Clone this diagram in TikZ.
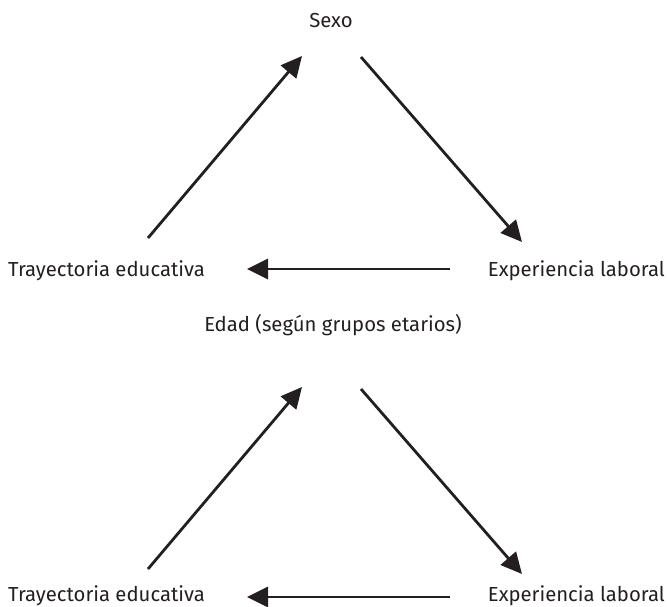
\documentclass[tikz,border=0pt]{standalone}
\usepackage{fontspec}
\setmainfont{Fira Sans}
\usetikzlibrary{arrows.meta}
\definecolor{ink}{HTML}{231F20}
\begin{document}
\begin{tikzpicture}[x=1pt,y=-1pt,
  lbl/.style={text=ink,font=\fontsize{20.3}{22}\selectfont,inner sep=0pt},
  arr/.style={draw=ink,line width=2.8pt,-{Triangle[length=21pt,width=20pt]}}]
\useasboundingbox (0,0) rectangle (667,606);
% top triangle
\node[lbl,anchor=base] (s1) at (331,27) {Sexo};
\node[lbl,anchor=base west] (t1) at (8,276) {Trayectoria educativa};
\node[lbl,anchor=base east] (e1) at (665,276) {Experiencia laboral};
\coordinate (a1s) at (148,238); \coordinate (a1e) at (302,56);
\coordinate (b1s) at (361,57); \coordinate (b1e) at (522,242);
\coordinate (c1s) at (450,269); \coordinate (c1e) at (247,269);
\draw[arr] (a1s) -- (a1e);
\draw[arr] (b1s) -- (b1e);
\draw[arr] (c1s) -- (c1e);
% bottom triangle
\node[lbl,anchor=base] (s2) at (333,331) {Edad (según grupos etarios)};
\node[lbl,anchor=base west] (t2) at (8,601) {Trayectoria educativa};
\node[lbl,anchor=base east] (e2) at (665,601) {Experiencia laboral};
\coordinate (a2s) at (148,569); \coordinate (a2e) at (302,387);
\coordinate (b2s) at (361,389); \coordinate (b2e) at (522,574);
\coordinate (c2s) at (450,597); \coordinate (c2e) at (247,597);
\draw[arr] (a2s) -- (a2e);
\draw[arr] (b2s) -- (b2e);
\draw[arr] (c2s) -- (c2e);
\end{tikzpicture}
\end{document}
